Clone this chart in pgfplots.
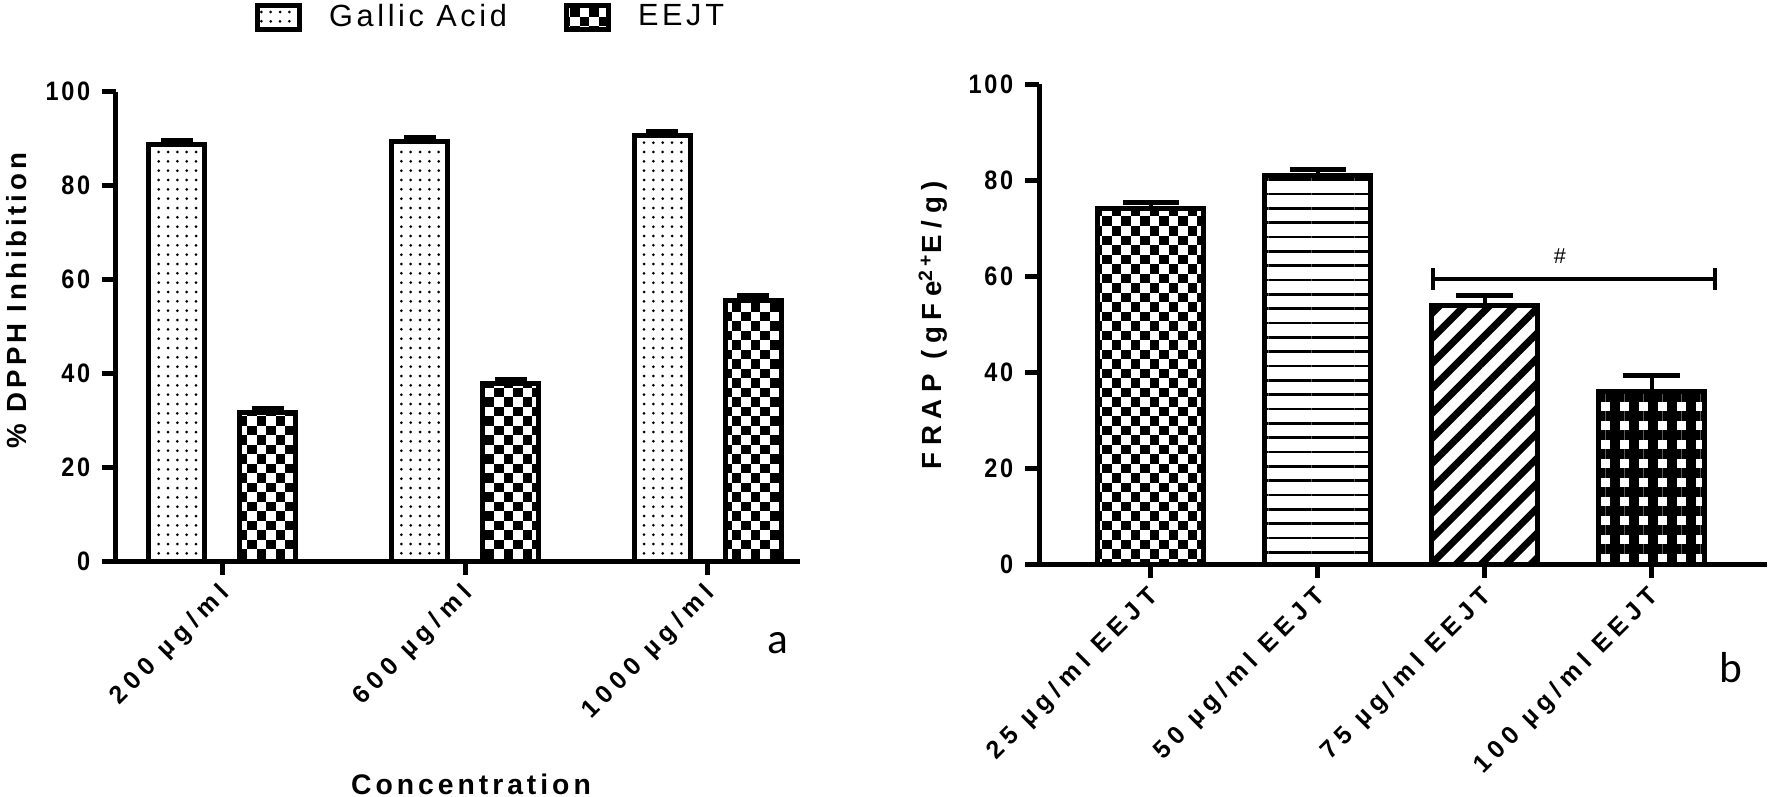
\documentclass[border=0pt]{standalone}
\usepackage{fontspec}
\setmainfont{Liberation Sans}
\newfontfamily\ytickfont{Liberation Sans}[LetterSpace=10,FakeStretch=0.88]
\newfontfamily\xtickfont{Liberation Sans}[LetterSpace=24]
\newfontfamily\labfont{Liberation Sans}[LetterSpace=14]
\newfontfamily\fraplabfont{Liberation Sans}[LetterSpace=24]
\newfontfamily\legfont{Liberation Sans}[LetterSpace=12]
\newfontfamily\panelfont{Carlito}
\usepackage{pgfplots}
\pgfplotsset{compat=1.18}
\usetikzlibrary{patterns,patterns.meta}
\tikzdeclarepattern{
  name=bigcheck,
  type=uncolored,
  bottom left={(-.1pt,-.1pt)},
  top right={(5.8pt,5.8pt)},
  tile size={(5.7pt,5.7pt)},
  code={\fill (0pt,0pt) rectangle (2.85pt,2.85pt); \fill (2.85pt,2.85pt) rectangle (5.7pt,5.7pt);}
}
\pgfplotsset{
  mybase/.style={
    scale only axis,
    axis lines*=left,
    axis line style={line width=1.5pt,-},
    x axis line style={shorten <=-4pt},
    ymin=0, ymax=100, ytick={0,20,...,100},
    major tick length=4.2pt,
    tick style={line width=1.5pt,black},
    tick align=outside,
    /pgf/number format/assume math mode=true,
    yticklabel style={font=\ytickfont\bfseries\fontsize{8}{9}\selectfont},
    xticklabel style={font=\xtickfont\bfseries\fontsize{7.5}{9}\selectfont, rotate=45, anchor=east, yshift=-4pt, xshift=1pt},
    ybar,
    clip=false,
  },
  barstyle/.style={draw=black, line width=1.5pt, fill=white,
    error bars/y dir=plus, error bars/y explicit,
    error bars/error bar style={line width=1.2pt, black},
    error bars/error mark options={rotate=90, line width=1.5pt, black, mark size=#1}},
}
\begin{document}
\begin{tikzpicture}
\useasboundingbox (0,0) rectangle (530.4pt,238.8pt);
% Panel a
\begin{axis}[mybase,
  at={(34.8pt,70.5pt)}, anchor=south west,
  width=205.2pt, height=140.8pt,
  xmin=-0.438, xmax=2.38,
  xtick={0,1,2}, xticklabels={200 µg/ml, 600 µg/ml, 1000 µg/ml},
  bar width=16.8pt,
  xlabel={Concentration},
  xlabel style={font=\labfont\bfseries\fontsize{8.5}{10}\selectfont, inner sep=0pt, at={(axis description cs:0.519,-0.475)}, anchor=center},
  ylabel={\% DPPH Inhibition},
  ylabel style={font=\labfont\bfseries\fontsize{8.3}{10}\selectfont, at={(axis description cs:-0.1447,0.555)}, anchor=center},
  legend columns=2,
  legend style={draw=none, fill=none, inner sep=0pt, at={(axis description cs:0.2018,1.158)}, anchor=west,
    font=\legfont\fontsize{9.2}{10}\selectfont,
    nodes={inner sep=0pt},
    /tikz/every odd column/.append style={column sep=8pt},
    /tikz/every even column/.append style={column sep=17pt}},
  legend image code/.code={\draw[#1,line width=1.5pt] (0pt,-3.6pt) rectangle (12.8pt,3.6pt);},
]
\addplot[barstyle=4.8pt, bar shift=-13.65pt, pattern={Dots[distance=2.8pt, radius=0.45pt]}]
  coordinates {(0,88.8) +- (0,0.7) (1,89.3) +- (0,1.0) (2,90.6) +- (0,0.9)};
\addplot[barstyle=4.8pt, bar shift=13.65pt, pattern=bigcheck]
  coordinates {(0,31.6) +- (0,0.8) (1,37.8) +- (0,0.8) (2,55.6) +- (0,1.0)};
\legend{Gallic Acid, EEJT}
\end{axis}
% Panel b
\begin{axis}[mybase,
  at={(311.7pt,69.6pt)}, anchor=south west,
  width=218.4pt, height=143.9pt,
  xmin=-0.67, xmax=3.69,
  xtick={0,1,2,3}, xticklabels={25 µg/ml EEJT, 50 µg/ml EEJT, 75 µg/ml EEJT, 100 µg/ml EEJT},
  bar width=31.8pt,
  ylabel={FRAP (gFe\textsuperscript{2+}E/g)},
  ylabel style={font=\fraplabfont\bfseries\fontsize{8.3}{10}\selectfont, at={(axis description cs:-0.1456,0.498)}, anchor=center},
]
\addplot[barstyle=8.5pt, bar shift=0pt, pattern=bigcheck]
  coordinates {(0,74.1) +- (0,1.2)};
\addplot[barstyle=8.5pt, bar shift=0pt, pattern={Lines[angle=0,distance=4.3pt,line width=0.8pt]}]
  coordinates {(1,80.9) +- (0,1.4)};
\addplot[barstyle=8.5pt, bar shift=0pt, pattern={Lines[angle=45,distance=5.3pt,line width=2.1pt]}]
  coordinates {(2,53.8) +- (0,2.2)};
\addplot[barstyle=8.5pt, bar shift=0pt, pattern={Hatch[angle=0,distance=5.7pt,line width=2.9pt]}]
  coordinates {(3,36.0) +- (0,3.4)};
% significance bracket
\addplot[sharp plot, black, line width=1pt, forget plot] coordinates {(1.69,59.4) (3.38,59.4)};
\addplot[sharp plot, black, line width=1.2pt, forget plot] coordinates {(1.69,57.1) (1.69,61.7)};
\addplot[sharp plot, black, line width=1.2pt, forget plot] coordinates {(3.38,57.1) (3.38,61.7)};
\node[font=\fontsize{6.5}{7}\selectfont, anchor=south] at (axis cs:2.45,60.2) {\#};
\end{axis}
\node[font=\panelfont\fontsize{13}{14}\selectfont] at (233.4pt,45.9pt) {a};
\node[font=\panelfont\fontsize{13}{14}\selectfont] at (519.3pt,38.4pt) {b};
\end{tikzpicture}
\end{document}
